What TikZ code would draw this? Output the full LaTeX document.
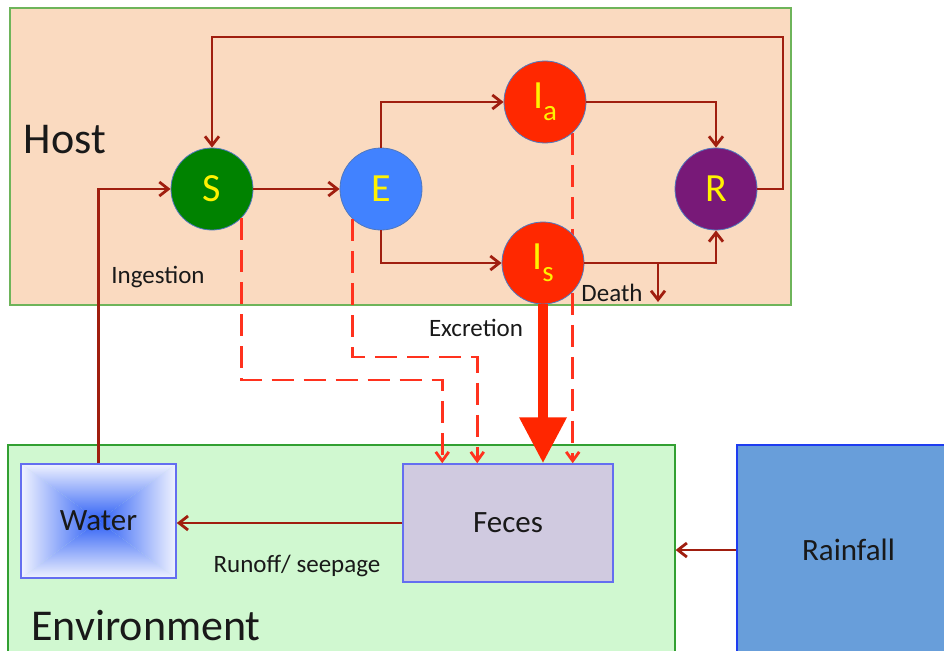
\documentclass[tikz,border=0pt]{standalone}
\usepackage{fontspec}
\setmainfont{Carlito}
\usetikzlibrary{arrows.meta}
\definecolor{arrred}{RGB}{160,30,15}
\definecolor{dashred}{RGB}{255,50,30}
\definecolor{thickred}{RGB}{255,38,0}
\definecolor{sgreen}{RGB}{0,130,0}
\definecolor{eblue}{RGB}{65,130,255}
\definecolor{ired}{RGB}{255,40,0}
\definecolor{rpurple}{RGB}{120,25,120}
\definecolor{hostfill}{RGB}{250,218,192}
\definecolor{hostline}{RGB}{110,180,90}
\definecolor{envfill}{RGB}{208,248,208}
\definecolor{envline}{RGB}{50,160,50}
\definecolor{fecesfill}{RGB}{208,202,224}
\definecolor{boxline}{RGB}{100,110,240}
\definecolor{rainfill}{RGB}{104,158,218}
\definecolor{rainline}{RGB}{30,60,240}
\definecolor{circline}{RGB}{80,120,190}
\definecolor{wblue}{RGB}{45,95,245}
\definecolor{wedge}{RGB}{242,244,255}
\definecolor{txt}{RGB}{25,25,25}
\pgfdeclarelayer{bg}
\pgfdeclarelayer{mid}
\pgfsetlayers{bg,mid,main}
\begin{document}
\begin{tikzpicture}[x=1pt,y=-1pt,
  region/.style={draw, line width=1.2pt, inner sep=0pt},
  state/.style={circle, draw=circline, line width=0.8pt, minimum size=82pt, inner sep=0pt,
    text=yellow, font=\fontsize{40}{44}\selectfont},
  compbox/.style={draw=boxline, line width=1.5pt, inner sep=0pt, text=txt,
    font=\fontsize{31}{34}\selectfont},
  lbl/.style={anchor=base, text=txt, inner sep=0pt, font=\fontsize{25}{28}\selectfont},
  biglbl/.style={anchor=base, text=txt, inner sep=0pt, font=\fontsize{44}{48}\selectfont},
  arr/.style={draw=arrred, line width=2.8pt, -{Straight Barb[length=9pt,width=14pt]}},
  dsh/.style={draw=dashred, line width=2.8pt, dash pattern=on 22pt off 10pt,
    -{Straight Barb[length=9pt,width=13pt]}},
  thick arrow/.style={draw=thickred, line width=10pt, -{Triangle[length=46pt,width=45pt]}}
]
\useasboundingbox (0,0) rectangle (944,650);
\begin{pgfonlayer}{bg}
  \node[region, draw=hostline, fill=hostfill, minimum width=781pt, minimum height=297pt] (Host) at (400.5,156.5) {};
  \node[region, draw=envline, fill=envfill, minimum width=667pt, minimum height=215pt] (Env) at (341.5,552.5) {};
\end{pgfonlayer}
\node[region, draw=rainline, line width=1.5pt, fill=rainfill, minimum width=223pt, minimum height=210pt,
  text=txt, font=\fontsize{31}{34}\selectfont] (Rain) at (848.5,550) {Rainfall};

% labels
\node[biglbl] (hostlbl) at (65,153) {Host};
\node[biglbl] (envlbl) at (146,640) {Environment};
\node[lbl] (inglbl) at (158,283) {Ingestion};
\node[lbl] (exclbl) at (476,336) {Excretion};
\node[lbl] (deathlbl) at (612,301) {Death};
\node[lbl] (runlbl) at (297,572) {Runoff/ seepage};

% compartments
\node[state, fill=sgreen] (S) at (212,189) {S};
\node[state, fill=eblue] (E) at (381,189) {E};
\node[state, fill=ired] (Ia) at (545,102) {I\raisebox{-12pt}{\fontsize{29}{30}\selectfont a}};
\node[state, fill=ired] (Is) at (543,263) {I\raisebox{-12pt}{\fontsize{29}{30}\selectfont s}};
\node[state, fill=rpurple] (R) at (716,189) {R};

\node[compbox, minimum width=155pt, minimum height=114pt] (Water) at (98.5,521) {\raisebox{-4pt}{Water}};
\node[compbox, fill=fecesfill, minimum width=210pt, minimum height=118pt] (Feces) at (508,523) {\raisebox{-4pt}{Feces}};

% water gradient
\begin{pgfonlayer}{mid}
  \shade[top color=wedge, bottom color=wblue] (Water.north west) -- (Water.north east) -- (Water.center) -- cycle;
  \shade[bottom color=wedge, top color=wblue] (Water.south west) -- (Water.south east) -- (Water.center) -- cycle;
  \shade[left color=wedge, right color=wblue] (Water.north west) -- (Water.south west) -- (Water.center) -- cycle;
  \shade[right color=wedge, left color=wblue] (Water.north east) -- (Water.south east) -- (Water.center) -- cycle;
  % dashed excretion from Ia passes behind Is
  \draw[dsh] (Ia.-48) -- (Ia.-48 |- Feces.north);
\end{pgfonlayer}

% coordinates
\coordinate (lp) at (783,37);
\coordinate (dx) at (658,302);
\coordinate (ys) at (0,380);
\coordinate (ye) at (0,357);

% transitions
\draw[arr] (R.east) -| (lp) -| (S.north);
\draw[arr] (S) -- (E);
\draw[arr] (E.north) |- (Ia.west);
\draw[arr] (E.south) |- (Is.west);
\draw[arr] (Ia.east) -| (R.north);
\draw[arr] (Is.east) -| (R.south);
\draw[arr] (Is.east -| dx) -- (dx);
\draw[arr] (Water.north) |- (S.west);
\draw[arr] (Feces.west) -- (Feces.west -| Water.east);
\draw[arr] (Rain.west) -- (Rain.west -| Env.east);

% shedding
\draw[dsh] (S.-45) -- (S.-45 |- ys) -| ([xshift=40pt]Feces.north west);
\draw[dsh] (E.-133) -- (E.-133 |- ye) -| ([xshift=75pt]Feces.north west);
\draw[thick arrow] (Is.south) -- (Is.south |- Feces.north);
\end{tikzpicture}
\end{document}
